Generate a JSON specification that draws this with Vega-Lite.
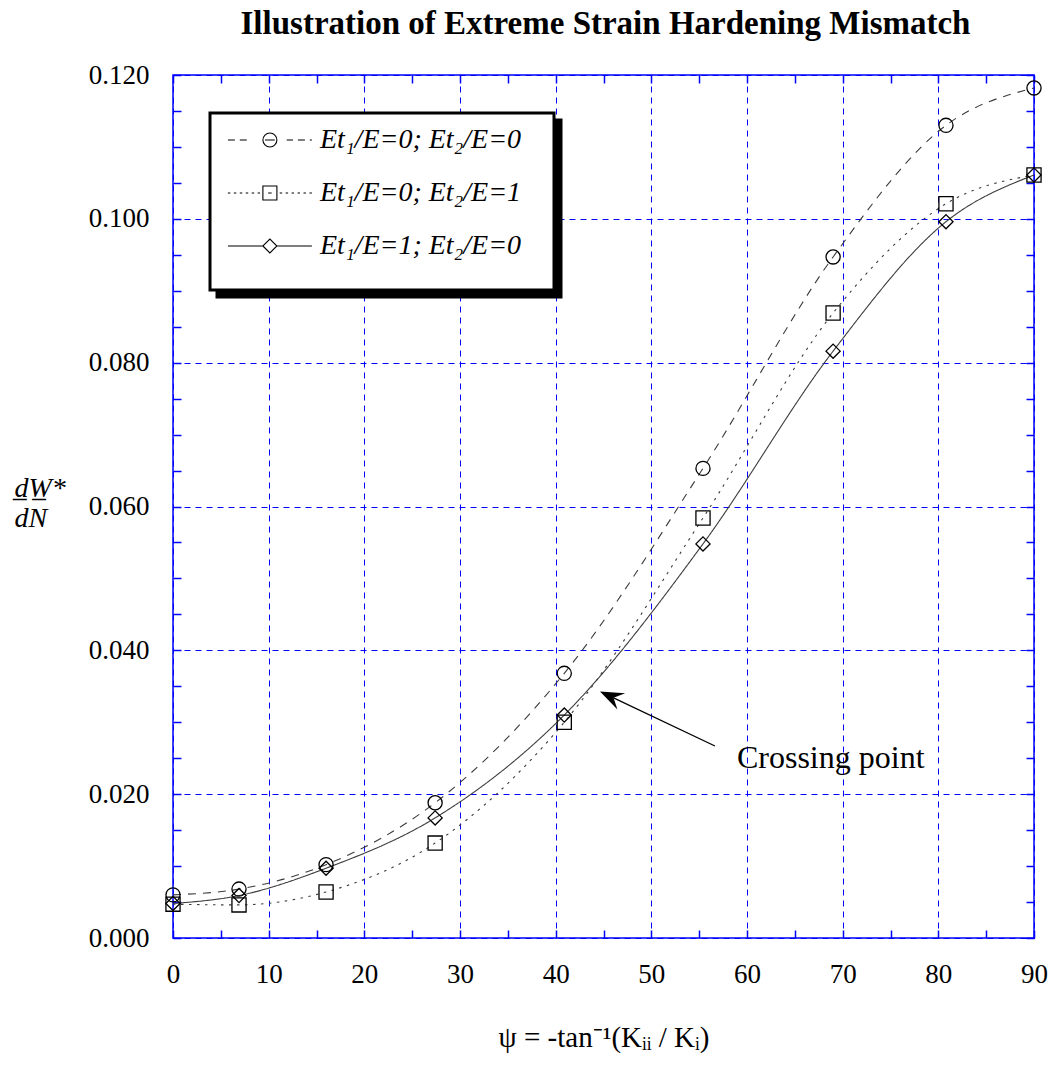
{
  "$schema": "https://vega.github.io/schema/vega-lite/v6.json",
  "width": 861,
  "height": 863,
  "autosize": {"type": "none"},
  "padding": {"left": 173, "top": 75, "right": 23, "bottom": 129},
  "background": "#ffffff",
  "config": {
    "view": {"stroke": "#0000ff", "strokeWidth": 1.5},
    "axis": {"labelFont": "Liberation Serif", "titleFont": "Liberation Serif", "labelColor": "#000000", "titleColor": "#000000"},
    "legend": {"strokeWidth": 3}
  },
  "datasets": {
    "curves": [
      {"psi": 0, "w": 0.0060, "series": "Et₁/E=0; Et₂/E=0"},
      {"psi": 6.9, "w": 0.0068, "series": "Et₁/E=0; Et₂/E=0"},
      {"psi": 16.0, "w": 0.0102, "series": "Et₁/E=0; Et₂/E=0"},
      {"psi": 27.4, "w": 0.0188, "series": "Et₁/E=0; Et₂/E=0"},
      {"psi": 40.9, "w": 0.0368, "series": "Et₁/E=0; Et₂/E=0"},
      {"psi": 55.4, "w": 0.0653, "series": "Et₁/E=0; Et₂/E=0"},
      {"psi": 69.0, "w": 0.0947, "series": "Et₁/E=0; Et₂/E=0"},
      {"psi": 80.8, "w": 0.1130, "series": "Et₁/E=0; Et₂/E=0"},
      {"psi": 90, "w": 0.1182, "series": "Et₁/E=0; Et₂/E=0"},
      {"psi": 0, "w": 0.0047, "series": "Et₁/E=0; Et₂/E=1"},
      {"psi": 6.9, "w": 0.0046, "series": "Et₁/E=0; Et₂/E=1"},
      {"psi": 16.0, "w": 0.0064, "series": "Et₁/E=0; Et₂/E=1"},
      {"psi": 27.4, "w": 0.0132, "series": "Et₁/E=0; Et₂/E=1"},
      {"psi": 40.9, "w": 0.0300, "series": "Et₁/E=0; Et₂/E=1"},
      {"psi": 55.4, "w": 0.0584, "series": "Et₁/E=0; Et₂/E=1"},
      {"psi": 69.0, "w": 0.0869, "series": "Et₁/E=0; Et₂/E=1"},
      {"psi": 80.8, "w": 0.1021, "series": "Et₁/E=0; Et₂/E=1"},
      {"psi": 90, "w": 0.1061, "series": "Et₁/E=0; Et₂/E=1"},
      {"psi": 0, "w": 0.0048, "series": "Et₁/E=1; Et₂/E=0"},
      {"psi": 6.9, "w": 0.0059, "series": "Et₁/E=1; Et₂/E=0"},
      {"psi": 16.0, "w": 0.0097, "series": "Et₁/E=1; Et₂/E=0"},
      {"psi": 27.4, "w": 0.0167, "series": "Et₁/E=1; Et₂/E=0"},
      {"psi": 40.9, "w": 0.0310, "series": "Et₁/E=1; Et₂/E=0"},
      {"psi": 55.4, "w": 0.0548, "series": "Et₁/E=1; Et₂/E=0"},
      {"psi": 69.0, "w": 0.0816, "series": "Et₁/E=1; Et₂/E=0"},
      {"psi": 80.8, "w": 0.0996, "series": "Et₁/E=1; Et₂/E=0"},
      {"psi": 90, "w": 0.1061, "series": "Et₁/E=1; Et₂/E=0"}
    ]
  },
  "layer": [
    {
      "data": {"name": "curves"},
      "mark": {"type": "line", "interpolate": "monotone", "color": "#3c3c3c", "strokeWidth": 1.1},
      "encoding": {
        "x": {"field": "psi", "type": "quantitative", "scale": {"domain": [0, 90], "nice": false, "zero": false},
          "axis": {"orient": "bottom", "values": [0, 10, 20, 30, 40, 50, 60, 70, 80, 90], "domain": false, "ticks": false, "labelFontSize": 27, "labelPadding": 23, "labelFlush": false, "labelOverlap": false, "grid": true, "gridColor": "#0000ff", "gridDash": [6, 5], "gridWidth": 1, "gridOpacity": 1, "title": "ψ = -tan⁻¹(Kᵢᵢ / Kᵢ)", "titleFontSize": 29, "titleFontWeight": "normal", "titleBaseline": "alphabetic", "titleY": 108}},
        "y": {"field": "w", "type": "quantitative", "scale": {"domain": [0, 0.12], "nice": false, "zero": false},
          "axis": {"orient": "left", "values": [0, 0.02, 0.04, 0.06, 0.08, 0.1, 0.12], "format": ".3f", "domain": false, "ticks": false, "labelFontSize": 27, "labelPadding": 24, "labelFlush": false, "labelOverlap": false, "grid": true, "gridColor": "#0000ff", "gridDash": [6, 5], "gridWidth": 1, "gridOpacity": 1, "title": ["d̲W̲*", "dN"], "titleAngle": 0, "titleAlign": "left", "titleBaseline": "alphabetic", "titleX": -159, "titleY": 421, "titleFontSize": 28, "titleFontStyle": "italic", "titleFontWeight": "normal", "titleLineHeight": 30}},
        "strokeDash": {"field": "series", "type": "nominal", "scale": {"range": [[8, 7], [2.5, 5.5], [1, 0]]}, "legend": null}
      }
    },
    {
      "data": {"name": "curves"},
      "mark": {"type": "point", "filled": false, "size": 200, "strokeWidth": 1.3, "color": "#000000", "opacity": 1},
      "encoding": {
        "x": {"field": "psi", "type": "quantitative", "scale": {"domain": [0, 90], "nice": false, "zero": false},
          "axis": {"orient": "bottom", "values": [0, 5, 10, 15, 20, 25, 30, 35, 40, 45, 50, 55, 60, 65, 70, 75, 80, 85, 90], "offset": -8, "tickSize": 8, "tickColor": "#0000ff", "tickWidth": 1.5, "domain": false, "labels": false, "grid": false, "title": null}},
        "y": {"field": "w", "type": "quantitative", "scale": {"domain": [0, 0.12], "nice": false, "zero": false},
          "axis": {"orient": "left", "values": [0, 0.005, 0.01, 0.015, 0.02, 0.025, 0.03, 0.035, 0.04, 0.045, 0.05, 0.055, 0.06, 0.065, 0.07, 0.075, 0.08, 0.085, 0.09, 0.095, 0.1, 0.105, 0.11, 0.115, 0.12], "offset": -8, "tickSize": 8, "tickColor": "#0000ff", "tickWidth": 1.5, "domain": false, "labels": false, "grid": false, "title": null}},
        "shape": {"field": "series", "type": "nominal", "scale": {"range": ["circle", "square", "diamond"]}, "legend": null}
      }
    },
    {
      "data": {"name": "curves"},
      "mark": {"type": "point", "filled": false, "opacity": 0},
      "encoding": {
        "x": {"field": "psi", "type": "quantitative", "scale": {"domain": [0, 90], "nice": false, "zero": false},
          "axis": {"orient": "top", "values": [0, 5, 10, 15, 20, 25, 30, 35, 40, 45, 50, 55, 60, 65, 70, 75, 80, 85, 90], "offset": -8, "tickSize": 8, "tickColor": "#0000ff", "tickWidth": 1.5, "domain": false, "labels": false, "grid": false,
            "title": "Illustration of Extreme Strain Hardening Mismatch", "titleFontSize": 33, "titleFontWeight": "bold", "titleX": 432, "titleY": -50, "titleAlign": "center", "titleAnchor": "middle", "titleBaseline": "alphabetic", "titleAngle": 0}},
        "y": {"field": "w", "type": "quantitative", "scale": {"domain": [0, 0.12], "nice": false, "zero": false},
          "axis": {"orient": "right", "values": [0, 0.005, 0.01, 0.015, 0.02, 0.025, 0.03, 0.035, 0.04, 0.045, 0.05, 0.055, 0.06, 0.065, 0.07, 0.075, 0.08, 0.085, 0.09, 0.095, 0.1, 0.105, 0.11, 0.115, 0.12], "offset": -8, "tickSize": 8, "tickColor": "#0000ff", "tickWidth": 1.5, "domain": false, "labels": false, "grid": false, "title": null}},
        "shape": {"field": "series", "type": "nominal",
          "scale": {"range": [
            "M-1.3,0H-0.3M0.4,0H1.4M3.7,0A1,1 0 1,0 5.7,0A1,1 0 1,0 3.7,0M4,0H5.4M7.1,0H8M8.7,0H9.7M10.4,0H10.7M43.06,0H43.06M0,-2.2H0M0,2.2H0",
            "M-1.3,0H-0.95M-0.45,0H-0.1M0.4,0H0.75M1.25,0H1.6M2.1,0H2.45M2.95,0H3.3M3.7,-1H5.7V1H3.7ZM4.45,0H4.95M6.1,0H6.45M6.95,0H7.3M7.8,0H8.15M8.65,0H9M9.5,0H9.85M10.35,0H10.7M43.06,0H43.06M0,-2.2H0M0,2.2H0",
            "M-1.3,0H3.7L4.7,-1L5.7,0L4.7,1L3.7,0M5.7,0H10.7M43.06,0H43.06M0,-2.2H0M0,4.06H0"
          ]},
          "legend": {"orient": "none", "legendX": 37, "legendY": 38, "title": null, "zindex": 2, "fillColor": "#ffffff", "strokeColor": "#000000", "padding": 13, "labelFont": "Liberation Serif", "labelFontSize": 28, "labelFontStyle": "italic", "labelColor": "#000000", "labelLimit": 400, "labelOffset": 69, "rowPadding": 17, "symbolSize": 196, "symbolStrokeColor": "#000000", "symbolStrokeWidth": 1.1, "symbolFillColor": "transparent", "symbolOpacity": 1}}
      }
    },
    {
      "data": {"name": "curves"},
      "mark": {"type": "point", "filled": false, "opacity": 0},
      "encoding": {
        "x": {"field": "psi", "type": "quantitative", "scale": {"domain": [0, 90], "nice": false, "zero": false}, "axis": null},
        "y": {"field": "w", "type": "quantitative", "scale": {"domain": [0, 0.12], "nice": false, "zero": false}, "axis": null},
        "shape": {"field": "series", "type": "nominal",
          "scale": {"range": [
            "M-1.3,0H-1.3M43.06,0H43.06M0,-2.2H0M0,2.2H0",
            "M-1.3,0H-1.2M43.06,0H43.06M0,-2.2H0M0,2.2H0",
            "M-1.3,0H-1.1M43.06,0H43.06M0,-2.2H0M0,4.06H0"
          ]},
          "legend": {"orient": "none", "legendX": 44, "legendY": 45, "title": null, "zindex": 1, "fillColor": "#000000", "strokeColor": "#000000", "padding": 13, "labelFont": "Liberation Serif", "labelFontSize": 28, "labelFontStyle": "italic", "labelColor": "#000000", "labelExpr": "''", "labelLimit": 400, "labelOffset": 69, "rowPadding": 17, "symbolSize": 196, "symbolStrokeColor": "#000000", "symbolStrokeWidth": 1.1, "symbolFillColor": "transparent", "symbolOpacity": 1}}
      }
    },
    {
      "data": {"values": [{"x": 56.65, "y": 0.0267, "x2": 46.05, "y2": 0.0334}]},
      "mark": {"type": "rule", "color": "#000000", "strokeWidth": 1.3},
      "encoding": {
        "x": {"field": "x", "type": "quantitative", "scale": {"domain": [0, 90], "nice": false, "zero": false}, "axis": null},
        "y": {"field": "y", "type": "quantitative", "scale": {"domain": [0, 0.12], "nice": false, "zero": false}, "axis": null},
        "x2": {"field": "x2"},
        "y2": {"field": "y2"}
      }
    },
    {
      "data": {"values": [{"x": 46.05, "y": 0.0334}]},
      "mark": {"type": "point", "shape": "M0,-1L0.6,0.57L0,0L-0.6,0.57Z", "size": 900, "angle": 295.3, "filled": true, "color": "#000000", "opacity": 1, "strokeWidth": 0},
      "encoding": {
        "x": {"field": "x", "type": "quantitative", "scale": {"domain": [0, 90], "nice": false, "zero": false}, "axis": null},
        "y": {"field": "y", "type": "quantitative", "scale": {"domain": [0, 0.12], "nice": false, "zero": false}, "axis": null}
      }
    },
    {
      "data": {"values": [{"x": 58.95, "y": 0.0236, "label": "Crossing point"}]},
      "mark": {"type": "text", "align": "left", "baseline": "alphabetic", "font": "Liberation Serif", "fontSize": 32, "color": "#000000"},
      "encoding": {
        "x": {"field": "x", "type": "quantitative", "scale": {"domain": [0, 90], "nice": false, "zero": false}, "axis": null},
        "y": {"field": "y", "type": "quantitative", "scale": {"domain": [0, 0.12], "nice": false, "zero": false}, "axis": null},
        "text": {"field": "label"}
      }
    }
  ],
  "resolve": {"axis": {"x": "independent", "y": "independent"}, "scale": {"shape": "independent"}, "legend": {"shape": "independent"}}
}
